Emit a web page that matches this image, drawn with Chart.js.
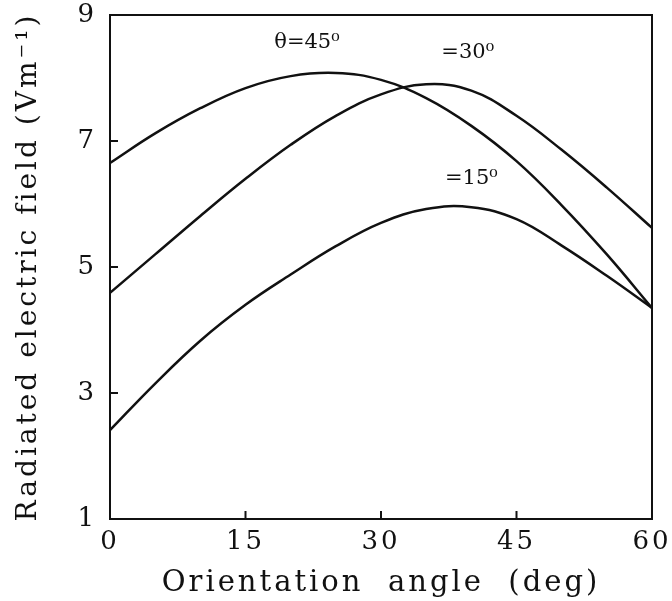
<!DOCTYPE html>
<html lang="en">
  <head>
    <meta charset="UTF-8" />
    <title>Radiated electric field vs orientation angle</title>
    <script src="https://cdn.jsdelivr.net/npm/chart.js"></script>
    <style>
      html, body {
        margin: 0;
        padding: 0;
        background: #fff;
      }
      #fieldChart {
        display: block;
      }
    </style>
  </head>

  <body>
    <canvas id="fieldChart" width="672" height="601"></canvas>

    <script>
      // orientation angle (deg)
      const angles = [0, 5, 10, 15, 20, 25, 30, 35, 40, 45, 50, 55, 60];
      // radiated electric field (V/m) for each elevation angle
      const field45 = [6.65, 7.12, 7.52, 7.84, 8.03, 8.08, 7.97, 7.68, 7.24, 6.68, 5.98, 5.20, 4.35];
      const field30 = [4.59, 5.20, 5.81, 6.40, 6.94, 7.40, 7.74, 7.90, 7.80, 7.40, 6.86, 6.26, 5.62];
      const field15 = [2.41, 3.15, 3.83, 4.40, 4.88, 5.33, 5.70, 5.92, 5.95, 5.76, 5.34, 4.86, 4.35];
      const curveNames = ["θ=45⁰", "=30⁰", "=15⁰"];
      const xTicks = [0, 15, 30, 45, 60];
      const yTicks = [1, 3, 5, 7, 9];

      const serif = "'DejaVu Serif', 'Liberation Serif', serif";

      function toPoints(ys) {
        return angles.map((a, i) => ({ x: a, y: ys[i] }));
      }

      function lineSet(name, ys) {
        return {
          label: name,
          data: toPoints(ys),
          borderColor: "#111",
          borderWidth: 2.5,
          pointRadius: 0,
          fill: false,
          tension: 0.4,
        };
      }

      // frame, inward ticks and curve labels
      const framePlugin = {
        id: "frame",
        beforeInit(chart) {
          chart.ctx.letterSpacing = "3px";
        },
        beforeDraw(chart) {
          chart.ctx.letterSpacing = "3px";
        },
        afterDatasetsDraw(chart) {
          const { ctx, chartArea: a, scales } = chart;
          ctx.save();
          ctx.strokeStyle = "#111";
          ctx.lineWidth = 2;
          ctx.strokeRect(a.left, a.top, a.right - a.left, a.bottom - a.top);

          xTicks.slice(1, -1).forEach((v) => {
            const px = scales.x.getPixelForValue(v);
            ctx.beginPath();
            ctx.moveTo(px, a.bottom);
            ctx.lineTo(px, a.bottom - 8);
            ctx.stroke();
          });
          yTicks.slice(1, -1).forEach((v) => {
            const py = scales.y.getPixelForValue(v);
            ctx.beginPath();
            ctx.moveTo(a.left, py);
            ctx.lineTo(a.left + 8, py);
            ctx.stroke();
          });

          const spots = [
            [21.8, 8.56],
            [39.6, 8.41],
            [40.0, 6.41],
          ];
          ctx.letterSpacing = "0px";
          ctx.fillStyle = "#111";
          ctx.font = "21px " + serif;
          ctx.textAlign = "center";
          ctx.textBaseline = "middle";
          curveNames.forEach((t, i) => {
            ctx.fillText(
              t,
              scales.x.getPixelForValue(spots[i][0]),
              scales.y.getPixelForValue(spots[i][1])
            );
          });
          ctx.restore();
        },
      };

      const ctx = document.getElementById("fieldChart").getContext("2d");
      const fieldChart = new Chart(ctx, {
        type: "line",
        data: {
          datasets: [
            lineSet(curveNames[0], field45),
            lineSet(curveNames[1], field30),
            lineSet(curveNames[2], field15),
          ],
        },
        options: {
          responsive: false,
          animation: false,
          layout: {
            padding: { top: 15, right: 20, left: 0, bottom: 0 },
          },
          plugins: {
            legend: { display: false },
            tooltip: { enabled: false },
          },
          scales: {
            x: {
              type: "linear",
              min: 0,
              max: 60,
              afterBuildTicks(scale) {
                scale.ticks = xTicks.map((v) => ({ value: v }));
              },
              afterFit(scale) {
                scale.height = 82;
                scale.paddingLeft = 0;
                scale.paddingRight = 0;
              },
              grid: { display: false, drawTicks: false },
              border: { display: false },
              ticks: {
                color: "#111",
                padding: 8,
                font: { family: serif, size: 26 },
              },
              title: {
                display: true,
                text: "Orientation  angle  (deg)",
                color: "#111",
                padding: { top: 0, bottom: 0 },
                font: { family: serif, size: 29 },
              },
            },
            y: {
              min: 1,
              max: 9,
              afterBuildTicks(scale) {
                scale.ticks = yTicks.map((v) => ({ value: v }));
              },
              afterFit(scale) {
                scale.width = 110;
                scale.paddingTop = 0;
                scale.paddingBottom = 0;
              },
              grid: { display: false, drawTicks: false },
              border: { display: false },
              ticks: {
                color: "#111",
                padding: 13,
                font: { family: serif, size: 26 },
              },
              title: {
                display: true,
                text: "Radiated electric field (Vm⁻¹)",
                color: "#111",
                padding: { top: 12, bottom: 0 },
                font: { family: serif, size: 28 },
              },
            },
          },
        },
        plugins: [framePlugin],
      });
    </script>
  </body>
</html>
